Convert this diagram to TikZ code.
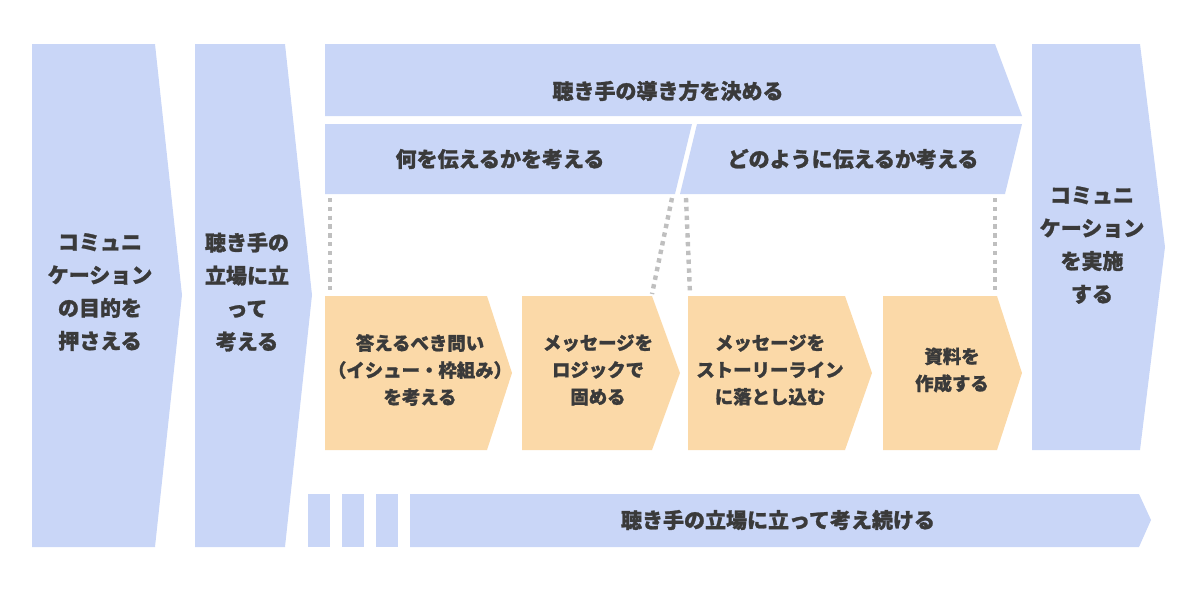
\documentclass[tikz,border=0pt]{standalone}
\usepackage{fontspec}
\setmainfont{Noto Sans CJK JP}[FakeBold=1.2]
\definecolor{stepblue}{HTML}{C9D6F7}
\definecolor{steporange}{HTML}{FBD9A8}
\definecolor{textgray}{HTML}{3A3A3A}
\tikzset{
  blue step/.style={fill=stepblue},
  orange step/.style={fill=steporange},
  label/.style={text=textgray, align=center, font=\fontsize{10.5}{16.5}\selectfont\bfseries},
  small label/.style={text=textgray, align=center, font=\fontsize{9.2}{13.5}\selectfont\bfseries},
  guide/.style={draw=gray!50, line width=2.2pt, dash pattern=on 2.2pt off 2.2pt}
}
\begin{document}
\begin{tikzpicture}[x=0.5pt,y=-0.5pt]
\useasboundingbox (0,0) rectangle (1200,591);

% Left and right columns
\fill [blue step] (32,44) -- (155,44) -- (182,295) -- (155,547) -- (32,547) -- cycle;
\fill [blue step] (195,44) -- (285,44) -- (312,295) -- (285,547) -- (195,547) -- cycle;
\fill [blue step] (1032,44) -- (1140,44) -- (1165,247) -- (1140,450) -- (1032,450) -- cycle;

% Top banner and second row
\fill [blue step] (325,44) -- (995,44) -- (1022,116) -- (325,116) -- cycle;
\fill [blue step] (325,124) -- (692,124) -- (675,194) -- (325,194) -- cycle;
\fill [blue step] (697,124) -- (1022,124) -- (1005,194) -- (680,194) -- cycle;

% Orange steps
\fill [orange step] (325,296) -- (487,296) -- (512,373) -- (487,450) -- (325,450) -- cycle;
\fill [orange step] (522,296) -- (652,296) -- (680,373) -- (652,450) -- (522,450) -- cycle;
\fill [orange step] (688,296) -- (845,296) -- (872,373) -- (845,450) -- (688,450) -- cycle;
\fill [orange step] (883,296) -- (997,296) -- (1022,373) -- (997,450) -- (883,450) -- cycle;

% Bottom bar
\foreach \x in {308,342,376}
\fill [blue step] (\x,494) rectangle ++(22,53);
\fill [blue step] (410,494) -- (1139,494) -- (1151,520) -- (1139,547) -- (410,547) -- cycle;

% Texts
\node [label] (purpose) at (100,292) {コミュニ\\ケーション\\の目的を\\押さえる};
\node [label] (listener) at (247,292) {聴き手の\\立場に立\\って\\考える};
\node [label] (guide) at (668,91) {聴き手の導き方を決める};
\node [label] (what) at (500,159) {何を伝えるかを考える};
\node [label] (how) at (853,159) {どのように伝えるか考える};
\node [small label] (issue) at (420,370) {答えるべき問い\\（イシュー・枠組み）\\を考える};
\node [small label] (logic) at (598,370) {メッセージを\\ロジックで\\固める};
\node [small label] (story) at (770,370) {メッセージを\\ストーリーライン\\に落とし込む};
\node [small label] (material) at (952,370) {資料を\\作成する};
\node [label] (execute) at (1092,245) {コミュニ\\ケーション\\を実施\\する};
\node [label] (keep) at (778,520) {聴き手の立場に立って考え続ける};

% Dotted guides
\coordinate (w1) at (330,198); \coordinate (w2) at (330,294);
\coordinate (w3) at (672,198); \coordinate (w4) at (652,294);
\coordinate (h1) at (686,198); \coordinate (h2) at (690,294);
\coordinate (h3) at (995,198); \coordinate (h4) at (995,294);
\draw [guide] (w1) -- (w2);
\draw [guide] (w3) -- (w4);
\draw [guide] (h1) -- (h2);
\draw [guide] (h3) -- (h4);

\end{tikzpicture}
\end{document}
